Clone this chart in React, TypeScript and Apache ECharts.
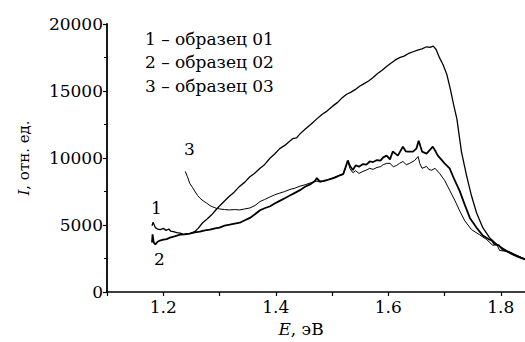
import React, { useEffect, useRef } from "react";
import * as echarts from "echarts";

const seriesNames = ["образец 01", "образец 02", "образец 03"];
const legendLines = ["1 – образец 01", "2 – образец 02", "3 – образец 03"];
const yTicks = [0, 5000, 10000, 15000, 20000];
const xLabels = ["1.2", "1.4", "1.6", "1.8"];

const sample01: [number, number][] = [
  [1.180, 4950], [1.182, 5200], [1.186, 4800], [1.190, 4700], [1.195, 4650], [1.200, 4750], [1.205, 4600],
  [1.210, 4700], [1.213, 4550], [1.218, 4500], [1.224, 4430], [1.230, 4400], [1.236, 4300], [1.242, 4350],
  [1.248, 4380], [1.256, 4500], [1.262, 4750], [1.270, 5170], [1.278, 5450], [1.286, 5760], [1.293, 6100],
  [1.300, 6420], [1.308, 6750], [1.318, 7160], [1.326, 7450], [1.336, 7900], [1.345, 8200], [1.354, 8600],
  [1.362, 8850], [1.372, 9230], [1.380, 9500], [1.390, 10000], [1.398, 10300], [1.407, 10700], [1.418, 11000],
  [1.430, 11440], [1.437, 11500], [1.443, 11800], [1.452, 12150], [1.462, 12500], [1.473, 12920], [1.482, 13250],
  [1.491, 13500], [1.501, 13870], [1.510, 14150], [1.518, 14500], [1.526, 14760], [1.533, 14900], [1.541, 15100],
  [1.549, 15350], [1.557, 15550], [1.565, 15750], [1.573, 16010], [1.581, 16300], [1.589, 16550], [1.597, 16830],
  [1.604, 17050], [1.612, 17300], [1.620, 17490], [1.628, 17600], [1.636, 17800], [1.644, 17930], [1.652, 18050],
  [1.660, 18150], [1.668, 18300], [1.674, 18250], [1.680, 18350], [1.685, 18100], [1.691, 17490], [1.697, 17000],
  [1.704, 16240], [1.710, 15200], [1.716, 14000], [1.722, 12900], [1.730, 10480], [1.739, 8710], [1.748, 7160],
  [1.757, 5900], [1.768, 4800], [1.780, 4060], [1.793, 3540], [1.810, 3100], [1.828, 2730], [1.843, 2440],
];

const sample02: [number, number][] = [
  [1.180, 3690], [1.181, 4300], [1.183, 3700], [1.186, 3550], [1.190, 3750], [1.194, 3840], [1.200, 3900],
  [1.206, 3950], [1.212, 4060], [1.220, 4150], [1.230, 4280], [1.238, 4300], [1.247, 4350], [1.256, 4450],
  [1.265, 4500], [1.274, 4600], [1.283, 4650], [1.292, 4750], [1.300, 4800], [1.309, 4950], [1.318, 5020],
  [1.327, 5100], [1.336, 5170], [1.345, 5350], [1.354, 5530], [1.363, 5800], [1.372, 6100], [1.380, 6250],
  [1.390, 6400], [1.398, 6600], [1.407, 6800], [1.416, 7000], [1.425, 7200], [1.434, 7400], [1.443, 7600],
  [1.452, 7850], [1.462, 8050], [1.470, 8300], [1.473, 8500], [1.478, 8250], [1.485, 8300], [1.490, 8340],
  [1.498, 8450], [1.506, 8550], [1.514, 8710], [1.520, 8800], [1.524, 9300], [1.528, 9820], [1.532, 9400],
  [1.537, 9100], [1.542, 9450], [1.548, 9350], [1.555, 9550], [1.561, 9500], [1.567, 9740], [1.573, 9700],
  [1.580, 9850], [1.586, 9800], [1.591, 10050], [1.597, 10180], [1.603, 9900], [1.608, 10480], [1.617, 10180],
  [1.626, 10850], [1.631, 10500], [1.635, 10480], [1.644, 10480], [1.650, 10700], [1.654, 11290], [1.660, 10480],
  [1.668, 10330], [1.674, 10600], [1.679, 10850], [1.684, 10500], [1.688, 10180], [1.694, 9900], [1.700, 9600],
  [1.709, 9230], [1.718, 8340], [1.727, 7530], [1.736, 6500], [1.745, 5530], [1.757, 4800], [1.768, 4210],
  [1.778, 3950], [1.784, 3840], [1.789, 3540], [1.796, 3500], [1.803, 3170], [1.812, 3000], [1.821, 2800],
  [1.832, 2600], [1.843, 2440],
];

const sample03: [number, number][] = [
  [1.239, 9000], [1.243, 8600], [1.247, 8120], [1.252, 7800], [1.256, 7530], [1.261, 7200], [1.265, 7010],
  [1.271, 6800], [1.277, 6640], [1.283, 6450], [1.288, 6350], [1.294, 6250], [1.300, 6200], [1.309, 6150],
  [1.318, 6125], [1.327, 6150], [1.336, 6125], [1.345, 6200], [1.354, 6270], [1.363, 6450], [1.372, 6750],
  [1.380, 6900], [1.390, 7100], [1.398, 7250], [1.407, 7380], [1.416, 7500], [1.425, 7650], [1.434, 7750],
  [1.443, 7900], [1.452, 8000], [1.462, 8150], [1.473, 8270], [1.480, 8200], [1.490, 8340], [1.498, 8450],
  [1.506, 8600], [1.514, 8710], [1.520, 8850], [1.524, 9300], [1.528, 9750], [1.532, 9200], [1.537, 8900],
  [1.542, 9050], [1.548, 8850], [1.555, 9000], [1.561, 9100], [1.567, 9230], [1.573, 9150], [1.580, 9300],
  [1.586, 9350], [1.591, 9500], [1.597, 9600], [1.603, 9600], [1.609, 9350], [1.615, 9450], [1.620, 9600],
  [1.626, 9740], [1.632, 9500], [1.638, 9600], [1.647, 9820], [1.653, 10110], [1.656, 9600], [1.660, 9230],
  [1.668, 9370], [1.672, 9150], [1.677, 9080], [1.683, 9230], [1.691, 8860], [1.700, 8340], [1.709, 7600],
  [1.718, 6860], [1.727, 6050], [1.736, 5310], [1.748, 4650], [1.762, 4280], [1.775, 3910], [1.786, 3470],
  [1.792, 3600], [1.798, 3100], [1.807, 3050], [1.816, 2950], [1.830, 2700], [1.843, 2440],
];

const FONT = "DejaVu Serif";

export default function App() {
  const ref = useRef<HTMLDivElement>(null);
  useEffect(() => {
    if (!ref.current) return;
    const chart = echarts.init(ref.current, null, { renderer: "svg" });
    const lineStyleFor = (w: number) => ({ color: "#000", width: w });
    const txt = (text: string, left: number, top: number) => ({
      type: "text",
      left,
      top,
      style: { text, fontFamily: FONT, fontSize: 17, fill: "#000" },
    });
    chart.setOption({
      animation: false,
      backgroundColor: "#fff",
      textStyle: { fontFamily: FONT },
      grid: { left: 107, right: 0, top: 24, bottom: 47, containLabel: false },
      xAxis: {
        type: "value",
        min: 1.1,
        max: 1.843,
        interval: 0.1,
        axisLine: { lineStyle: { color: "#000", width: 1.5 } },
        axisTick: { inside: false, length: 4, lineStyle: { color: "#000", width: 1.2 } },
        splitLine: { show: false },
        axisLabel: {
          color: "#000",
          fontFamily: FONT,
          fontSize: 17,
          margin: 6,
          showMaxLabel: false,
          formatter: (v: number) => {
            const s = v.toFixed(1);
            return xLabels.includes(s) ? s : "";
          },
        },
        name: "{i|E}, эВ",
        nameLocation: "middle",
        nameGap: 28,
        nameTextStyle: {
          color: "#000",
          fontFamily: FONT,
          fontSize: 17,
          padding: [0, 0, 0, -30],
          rich: { i: { fontStyle: "italic", fontFamily: FONT, fontSize: 17, color: "#000" } },
        },
      },
      yAxis: {
        type: "value",
        min: 0,
        max: 20000,
        interval: 5000,
        axisLine: { show: true, lineStyle: { color: "#000", width: 1.8 } },
        axisTick: { show: true, inside: false, length: 4, lineStyle: { color: "#000", width: 1.2 } },
        minorTick: { show: true, splitNumber: 2, length: 3, lineStyle: { color: "#000", width: 1 } },
        splitLine: { show: false },
        axisLabel: {
          color: "#000",
          fontFamily: FONT,
          fontSize: 17,
          margin: 4,
          formatter: (v: number) => (yTicks.includes(v) ? String(v) : ""),
        },
        name: "{i|I}, отн. ед.",
        nameLocation: "middle",
        nameRotate: 90,
        nameGap: 76,
        nameTextStyle: {
          color: "#000",
          fontFamily: FONT,
          fontSize: 15,
          rich: { i: { fontStyle: "italic", fontFamily: FONT, fontSize: 15, color: "#000" } },
        },
      },
      graphic: [
        ...legendLines.map((t, i) => txt(t, 145, 30 + i * 23.5)),
        txt("1", 151, 199),
        txt("2", 154, 250),
        txt("3", 184, 140),
      ],
      series: [
        { name: seriesNames[0], type: "line", data: sample01, showSymbol: false, lineStyle: lineStyleFor(1.3) },
        { name: seriesNames[1], type: "line", data: sample02, showSymbol: false, lineStyle: lineStyleFor(1.8) },
        { name: seriesNames[2], type: "line", data: sample03, showSymbol: false, lineStyle: lineStyleFor(1) },
      ],
    });
    return () => chart.dispose();
  }, []);
  return <div ref={ref} style={{ width: 525, height: 342, position: "absolute", left: 0, top: 0 }} />;
}
